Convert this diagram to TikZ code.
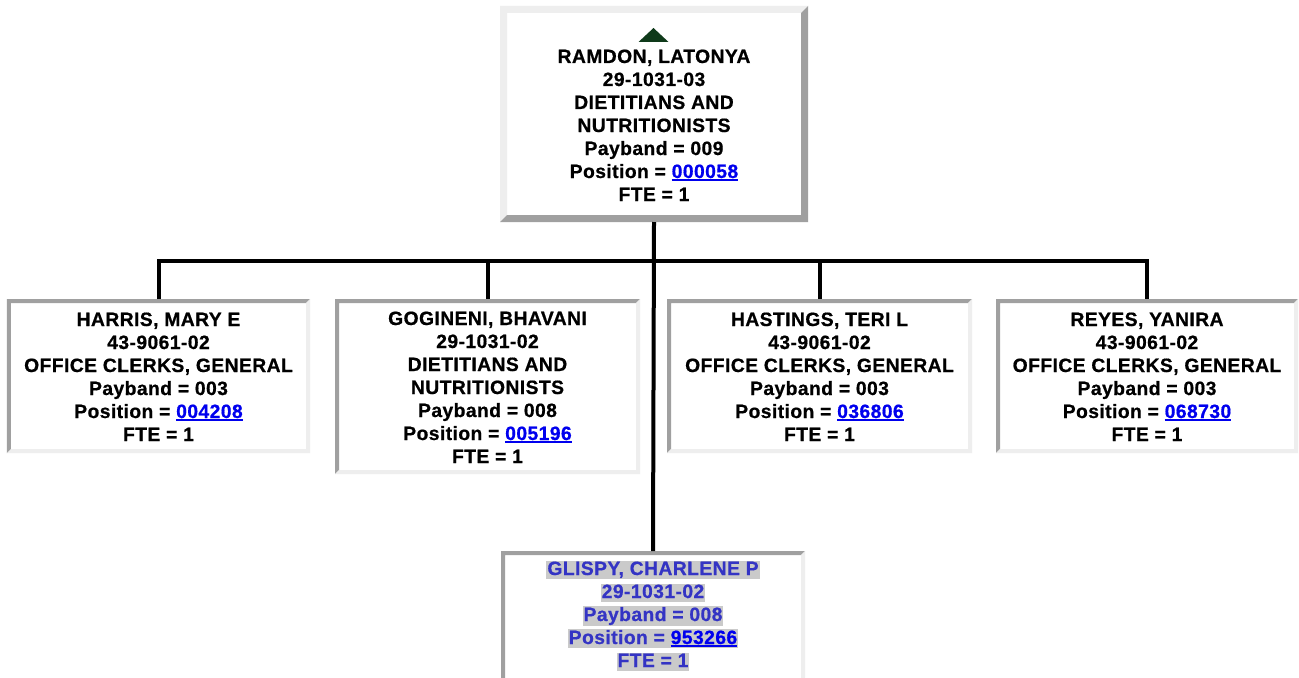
\documentclass[tikz,border=0pt]{standalone}
\usepackage{fontspec}
\setmainfont{Liberation Sans}[LetterSpace=2.2, BoldFeatures={FakeBold=0.7}]
\definecolor{bevlight}{HTML}{EEEEEE}
\definecolor{bevdark}{HTML}{A0A0A0}
\definecolor{linkblue}{HTML}{0000EE}
\definecolor{selblue}{HTML}{3434C4}
\definecolor{hlgray}{HTML}{CACACA}
\definecolor{tridark}{HTML}{0F3A1A}
\newcommand\lnk[1]{{\color{linkblue}\setbox0\hbox{#1}\rlap{\rule[-2.6bp]{\wd0}{1.8bp}}\box0}}
\newcommand\hlt[1]{{\setlength{\fboxsep}{1bp}\colorbox{hlgray}{\rule[-3bp]{0pt}{16bp}#1}}}
\newcommand\boxfont{\fontsize{19.3bp}{23bp}\selectfont\bfseries}
% bevelled border: node name, thickness, top-left colour, bottom-right colour
\newcommand\bevel[4]{%
  \fill[#3] (#1.south west) -- (#1.north west) -- (#1.north east)
    -- ([shift={(-#2,#2)}]#1.north east) -- ([shift={(#2,#2)}]#1.north west)
    -- ([shift={(#2,-#2)}]#1.south west) -- cycle;
  \fill[#4] (#1.south west) -- (#1.south east) -- (#1.north east)
    -- ([shift={(-#2,#2)}]#1.north east) -- ([shift={(-#2,-#2)}]#1.south east)
    -- ([shift={(#2,-#2)}]#1.south west) -- cycle;
}
\tikzset{
  card/.style={rectangle, inner sep=0pt, outer sep=0pt, fill=white, draw=none},
  txt/.style={inner sep=0pt, outer sep=0pt, anchor=base, font=\boxfont, align=center},
  conn/.style={draw=black, line width=4bp, line join=miter},
}
\begin{document}
\begin{tikzpicture}[x=1bp, y=-1bp]
\useasboundingbox (0,0) rectangle (1299,677);
\fill[white] (0,0) rectangle (1299,677);
\clip (0,0) rectangle (1299,677);

% boxes
\node[card, minimum width=308bp, minimum height=216bp] (root) at (654,114) {};
\node[card, minimum width=303bp, minimum height=154bp] (harris) at (158.5,376) {};
\node[card, minimum width=305bp, minimum height=175bp] (gogineni) at (487.5,386.5) {};
\node[card, minimum width=305bp, minimum height=154bp] (hastings) at (819.5,376) {};
\node[card, minimum width=302bp, minimum height=154bp] (reyes) at (1147,376) {};
\node[card, minimum width=304bp, minimum height=149bp] (glispy) at (653,625.5) {};

\bevel{root}{7}{bevlight}{bevdark}
\bevel{harris}{4}{bevdark}{bevlight}
\bevel{gogineni}{4}{bevdark}{bevlight}
\bevel{hastings}{4}{bevdark}{bevlight}
\bevel{reyes}{4}{bevdark}{bevlight}
\bevel{glispy}{4}{bevdark}{bevlight}

% connectors
\coordinate (bar) at (654,261);
\draw[conn] (root.south) -- (glispy.north);
\draw[conn] (harris.north) -- (harris.north |- bar) -- (reyes.north |- bar) -- (reyes.north);
\draw[conn] (gogineni.north |- bar) -- (gogineni.north);
\draw[conn] (hastings.north |- bar) -- (hastings.north);

% collapse icon
\fill[tridark] (638.5,42) -- (653.5,28) -- (668.5,42) -- cycle;

% texts
\node[txt] (root-t) at (654,63) {\begin{tabular}[t]{@{}c@{}}
RAMDON, LATONYA\\ 29-1031-03\\ DIETITIANS AND\\ NUTRITIONISTS\\ Payband = 009\\ Position = \lnk{000058}\\ FTE = 1
\end{tabular}};
\node[txt] (harris-t) at (158.5,326) {\begin{tabular}[t]{@{}c@{}}
HARRIS, MARY E\\ 43-9061-02\\ OFFICE CLERKS, GENERAL\\ Payband = 003\\ Position = \lnk{004208}\\ FTE = 1
\end{tabular}};
\node[txt] (gogineni-t) at (487.5,325) {\begin{tabular}[t]{@{}c@{}}
GOGINENI, BHAVANI\\ 29-1031-02\\ DIETITIANS AND\\ NUTRITIONISTS\\ Payband = 008\\ Position = \lnk{005196}\\ FTE = 1
\end{tabular}};
\node[txt] (hastings-t) at (819.5,326) {\begin{tabular}[t]{@{}c@{}}
HASTINGS, TERI L\\ 43-9061-02\\ OFFICE CLERKS, GENERAL\\ Payband = 003\\ Position = \lnk{036806}\\ FTE = 1
\end{tabular}};
\node[txt] (reyes-t) at (1147,326) {\begin{tabular}[t]{@{}c@{}}
REYES, YANIRA\\ 43-9061-02\\ OFFICE CLERKS, GENERAL\\ Payband = 003\\ Position = \lnk{068730}\\ FTE = 1
\end{tabular}};
\node[txt, text=selblue] (glispy-t) at (653,575) {\begin{tabular}[t]{@{}c@{}}
\hlt{GLISPY, CHARLENE P}\\ \hlt{29-1031-02}\\ \hlt{Payband = 008}\\ \hlt{Position = \lnk{953266}}\\ \hlt{FTE = 1}
\end{tabular}};
\end{tikzpicture}
\end{document}
